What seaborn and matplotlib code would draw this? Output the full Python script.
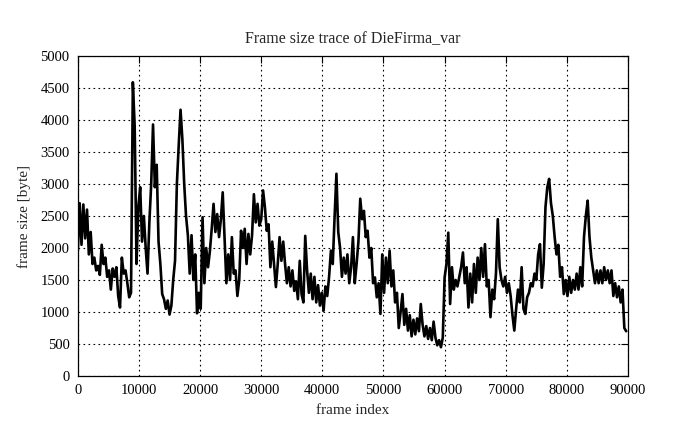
import matplotlib
matplotlib.use("Agg")
import matplotlib.pyplot as plt
import numpy as np
import pandas as pd
import seaborn as sns

TITLE = "Frame size trace of DieFirma_var"
X_LABEL = "frame index"
Y_LABEL = "frame size [byte]"

# one reading every 300 frames
FRAME_STEP = 300
FRAME_SIZE = [
    1960, 2700, 2050, 2680, 2150, 2600, 1900, 2250, 1750, 1850,  # 0
    1650, 1720, 1580, 2050, 1750, 1850, 1550, 1650, 1350, 1680,  # 3000
    1550, 1700, 1250, 1070, 1850, 1600, 1650, 1450, 1230, 1300,  # 6000
    4590, 3900, 1750, 2650, 2950, 2100, 2500, 2000, 1600, 2400,  # 9000
    3000, 3930, 2950, 3300, 2100, 1750, 1280, 1200, 1050, 1180,  # 12000
    960, 1100, 1500, 1800, 3000, 3600, 4160, 3700, 3000, 2500,   # 15000
    2200, 1600, 2200, 1500, 1900, 980, 1300, 1050, 2480, 1450,   # 18000
    2000, 1700, 1950, 2300, 2690, 2250, 2530, 2170, 2450, 2870,  # 21000
    2170, 1450, 1900, 1500, 2170, 1600, 1650, 1250, 1500, 2270,  # 24000
    2000, 2300, 1750, 2220, 1900, 2200, 2840, 2400, 2690, 2350,  # 27000
    2450, 2900, 2640, 2270, 2370, 1700, 2100, 1750, 1390, 1750,  # 30000
    2170, 1800, 2100, 1750, 1450, 1700, 1400, 1650, 1330, 1480,  # 33000
    1200, 1800, 1280, 1150, 2190, 1650, 1300, 1600, 1200, 1550,  # 36000
    1150, 1420, 1100, 1300, 1020, 1400, 1250, 1550, 1960, 1750,  # 39000
    2480, 3160, 2250, 2000, 1550, 1850, 1600, 1900, 1450, 1700,  # 42000
    2170, 1450, 1750, 2100, 2770, 2450, 2580, 2170, 2270, 1850,  # 45000
    2000, 1450, 1540, 1230, 1450, 970, 1900, 1300, 1850, 1450,   # 48000
    1960, 1400, 1650, 1150, 1300, 750, 1000, 1280, 800, 1050,    # 51000
    710, 950, 620, 880, 650, 900, 700, 1125, 800, 620,           # 54000
    780, 580, 750, 560, 850, 600, 480, 560, 450, 600,            # 57000
    1540, 1750, 2240, 1125, 1700, 1350, 1500, 1400, 1550, 1700,  # 60000
    1930, 1450, 1700, 1070, 1600, 1150, 1750, 1300, 1850, 1500,  # 63000
    2000, 1550, 2060, 1400, 1500, 920, 1350, 1200, 1600, 2450,   # 66000
    1700, 1500, 1400, 1550, 1300, 1450, 1250, 950, 710, 1050,    # 69000
    1350, 1150, 1700, 1050, 970, 1230, 1300, 1450, 1400, 1600,   # 72000
    1500, 1900, 2060, 1380, 1750, 2640, 2950, 3080, 2700, 2500,  # 75000
    2170, 1900, 2050, 1550, 1700, 1280, 1500, 1250, 1550, 1300,  # 78000
    1500, 1350, 1600, 1350, 1700, 1400, 2170, 2500, 2740, 2170,  # 81000
    1850, 1650, 1450, 1650, 1450, 1650, 1450, 1700, 1500, 1650,  # 84000
    1450, 1650, 1250, 1450, 1230, 1400, 1150, 1350, 750, 700,    # 87000
]

X_TICKS = list(range(0, 90001, 10000))
Y_TICKS = list(range(0, 5001, 500))


def main() -> None:
    sns.set_theme(style="white")
    plt.rcParams["font.family"] = ["Liberation Serif", "DejaVu Serif"]

    df = pd.DataFrame({
        "frame": np.arange(len(FRAME_SIZE)) * FRAME_STEP,
        "size": FRAME_SIZE,
    })

    fig = plt.figure(figsize=(6.95, 4.29), dpi=100)
    ax = fig.add_axes([0.112, 0.1235, 0.7916, 0.746])
    sns.lineplot(data=df, x="frame", y="size", color="black", linewidth=1.9, ax=ax)

    ax.set_xlim(0, 90000)
    ax.set_ylim(0, 5000)
    ax.set_xticks(X_TICKS)
    ax.set_yticks(Y_TICKS)
    ax.set_xticklabels([str(t) for t in X_TICKS])
    ax.set_yticklabels([str(t) for t in Y_TICKS])
    ax.grid(True, color="black", linestyle=(0, (1.5, 3)), linewidth=0.8)
    ax.tick_params(direction="in", top=True, right=True, length=5, width=0.8,
                   labelsize=10.5, colors="black", pad=6)
    for spine in ax.spines.values():
        spine.set_color("black")
        spine.set_linewidth(0.9)

    ax.set_title(TITLE, fontsize=11.5, pad=9)
    ax.set_xlabel(X_LABEL, fontsize=11, labelpad=5)
    ax.set_ylabel(Y_LABEL, fontsize=11, labelpad=7)

    fig.savefig("out.png", dpi=100)
    plt.close(fig)


if __name__ == "__main__":
    main()
